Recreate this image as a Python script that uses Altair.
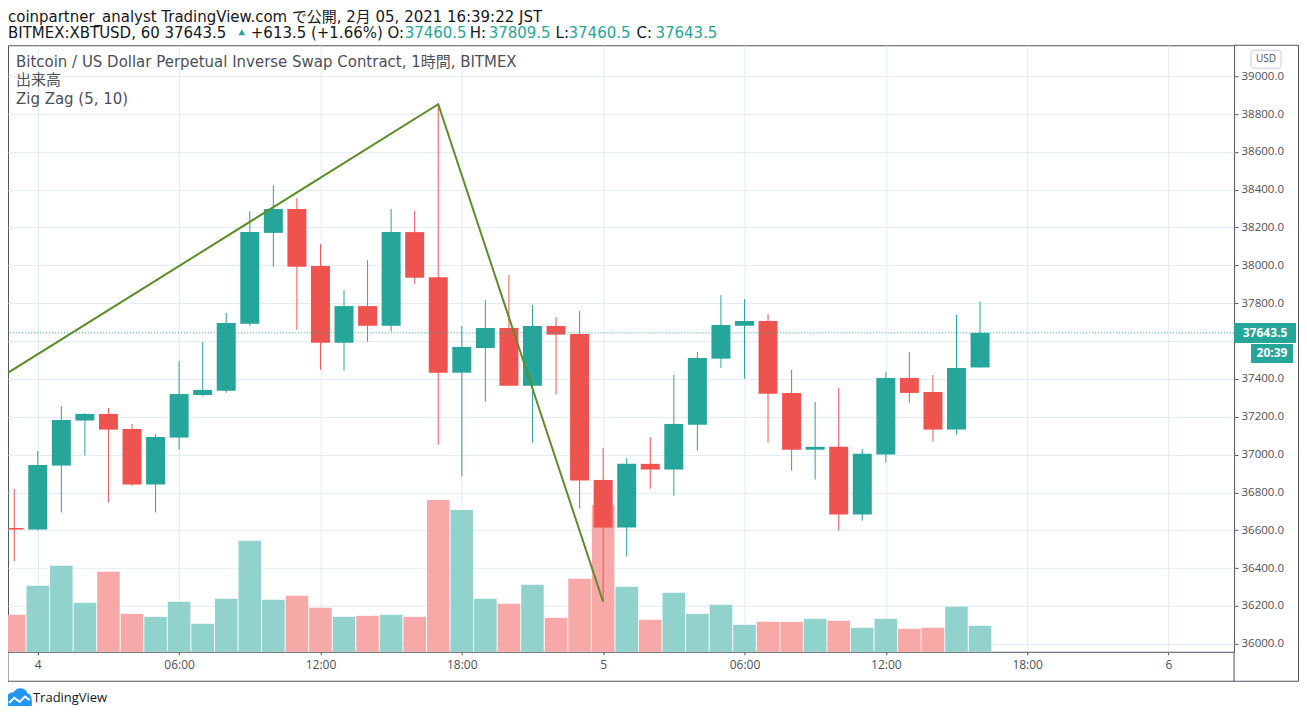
import altair as alt
import pandas as pd

# ---------------- data ----------------
times = pd.date_range("2021-02-03 23:00", periods=42, freq="h")  # hourly candles

opens = [36612, 36604, 36942, 37180, 37215, 37135, 36842, 37090, 37315, 37338,
         37692, 38172, 38298, 37997, 37591, 37785, 37681, 38176, 37938, 37433,
         37563, 37669, 37364, 37680, 37637, 36866, 36614, 36951, 36921, 37158,
         37507, 37681, 37706, 37326, 37026, 37041, 36683, 37000, 37405, 37331,
         37132, 37460.5]
highs = [36819, 37019, 37257, 37218, 37246, 37162, 37109, 37495, 37595, 37748,
         38287, 38424, 38356, 38113, 37870, 38028, 38298, 38287, 38852, 37680,
         37817, 37949, 37791, 37727, 37759, 37035, 36983, 37093, 37421, 37542,
         37843, 37822, 37743, 37447, 37278, 37352, 37030, 37437, 37542, 37421,
         37738, 37809.5]
lows = [36435, 36600, 36694, 36995, 36746, 36835, 36694, 37026, 37310, 37327,
        37681, 37993, 37660, 37449, 37444, 37597, 37650, 37903, 37051, 36884,
        37280, 37362, 37063, 37317, 36715, 36222, 36461, 36820, 36783, 37021,
        37459, 37401, 37063, 36915, 36868, 36598, 36651, 36958, 37275, 37069,
        37105, 37460.5]
closes = [36604, 36945, 37183, 37215, 37132, 36842, 37093, 37320, 37342, 37695,
          38176, 38298, 37993, 37591, 37785, 37681, 38176, 37935, 37433, 37569,
          37669, 37364, 37680, 37634, 36863, 36614, 36951, 36921, 37162, 37511,
          37685, 37706, 37322, 37026, 37041, 36683, 37004, 37405, 37326, 37132,
          37458, 37643.5]
volumes = [37, 66, 86, 49, 80, 38, 35, 50, 28, 53, 111, 52, 56, 44, 35, 36, 37, 35,
           152, 142, 53, 48, 67, 34, 73, 147, 65, 32, 59, 38, 47, 27, 30, 30, 33,
           31, 24, 33, 23, 24, 45, 26]

# zig zag pivots (the first one lies just left of the visible range)
zz_times = ["2021-02-03 22:30", "2021-02-04 17:00", "2021-02-05 00:00"]
zz_prices = [37414, 38852, 36222]

tick_hours = [0, 6, 12, 18, 24, 30, 36, 42, 48]
price_ticks = [36000 + 200 * k for k in range(16)]
last_price = 37643.5

# ---------------- styles ----------------
TEAL = "#26a69a"
RED = "#ef5350"
VTEAL = "#92d2cc"
VRED = "#f7a9a7"
GRID = "#e1ecf2"
BORDER = "#50535e"
TXT = "#131722"
GREY = "#4c4f5a"
ZZ = "#5d8c2a"
FONT = "Open Sans, Noto Sans CJK JP, sans-serif"
HFONT = "DejaVu Sans, Noto Sans CJK JP, sans-serif"

W, H = 1227, 607
origin = pd.Timestamp("2021-02-04 00:00")

hours = [(t - origin) / pd.Timedelta(hours=1) for t in times]
up = [c >= o for o, c in zip(opens, closes)]
df = pd.DataFrame({
    "h": hours, "open": opens, "high": highs, "low": lows, "close": closes,
    "vol": volumes,
    "ccol": [TEAL if u else RED for u in up],
    "vcol": [VTEAL if u else VRED for u in up],
})
zz = pd.DataFrame({
    "h": [(pd.Timestamp(t) - origin) / pd.Timedelta(hours=1) for t in zz_times],
    "p": zz_prices,
})

xscale = alt.Scale(domain=[-1.052, 50.57], nice=False, zero=False)
yscale = alt.Scale(domain=[35957.7, 39163.8], nice=False, zero=False)

xaxis = alt.Axis(
    values=tick_hours, title=None, grid=True, gridColor=GRID, domain=False,
    tickSize=3, tickColor=BORDER, labelPadding=5, labelFontSize=12,
    labelColor=GREY, labelFont=FONT, labelFlush=False, labelOverlap=False,
    labelExpr="datum.value % 24 == 0 ? '' + (4 + datum.value / 24) : "
              "((datum.value % 24) < 10 ? '0' : '') + (datum.value % 24) + ':00'",
)
yaxis = alt.Axis(
    orient="right", values=price_ticks, title=None, grid=True,
    gridColor=GRID, domain=False, tickSize=4, tickColor=BORDER, labelPadding=3,
    labelFontSize=11.5, labelColor=GREY, labelFont=FONT, labelFlush=False,
    labelOverlap=False,
    # the 37600 label sits under the last-price badge
    labelExpr="datum.value == 37600 ? '' : format(datum.value, '.1f')",
)

X = alt.X("h:Q", scale=xscale, axis=xaxis)

vol = alt.Chart(df).mark_bar(size=22.6).encode(
    x=X,
    y=alt.Y("vol:Q", scale=alt.Scale(domain=[0, H]), axis=None),
    color=alt.Color("vcol:N", scale=None),
)

wicks = alt.Chart(df).mark_rule(strokeWidth=1).encode(
    x=X,
    y=alt.Y("low:Q", scale=yscale, axis=yaxis),
    y2="high:Q",
    color=alt.Color("ccol:N", scale=None),
)
bodies = alt.Chart(df).mark_bar(size=19).encode(
    x=X,
    y=alt.Y("open:Q", scale=yscale, axis=yaxis),
    y2="close:Q",
    color=alt.Color("ccol:N", scale=None),
)
zzline = alt.Chart(zz).mark_line(color=ZZ, strokeWidth=2, clip=True).encode(
    x=X, y=alt.Y("p:Q", scale=yscale, axis=yaxis),
)
lastrule = alt.Chart(pd.DataFrame({"p": [last_price]})).mark_rule(
    color=TEAL, strokeDash=[1, 2], strokeWidth=1
).encode(y=alt.Y("p:Q", scale=yscale, axis=yaxis))

price = alt.layer(wicks, bodies, zzline, lastrule)

one = pd.DataFrame({"k": [0]})


def txt(s, x, y, size=15, color=TXT, weight="normal", align="left", font=HFONT):
    return alt.Chart(one).mark_text(
        text=s, align=align, baseline="middle", fontSize=size, color=color,
        font=font, fontWeight=weight,
    ).encode(x=alt.value(x), y=alt.value(y))


def box(x1, y1, x2, y2, fill, stroke=None, radius=0):
    kw = dict(fill=fill, cornerRadius=radius)
    if stroke:
        kw.update(stroke=stroke, strokeWidth=1)
    return alt.Chart(one).mark_rect(**kw).encode(
        x=alt.value(x1), x2=alt.value(x2), y=alt.value(y1), y2=alt.value(y2))


def line(x1, y1, x2, y2, color=BORDER):
    return alt.Chart(one).mark_rule(color=color, strokeWidth=1).encode(
        x=alt.value(x1), x2=alt.value(x2), y=alt.value(y1), y2=alt.value(y2))


decor = [
    # header
    txt("coinpartner_analyst TradingView.com で公開, 2月 05, 2021 16:39:22 JST", 0, -28),
    txt("BITMEX:XBTUSD, 60 37643.5", 0, -12),
    alt.Chart(one).mark_point(shape="triangle-up", filled=True, color=TEAL,
                              size=45, opacity=1).encode(
        x=alt.value(234), y=alt.value(-13)),
    txt("+613.5 (+1.66%) O:", 243, -12),
    txt("37460.5", 397, -12, color=TEAL),
    txt("H:", 462, -12),
    txt("37809.5", 481, -12, color=TEAL),
    txt("L:", 548, -12),
    txt("37460.5", 561, -12, color=TEAL),
    txt("C:", 629, -12),
    txt("37643.5", 648, -12, color=TEAL),
    # legend
    txt("Bitcoin / US Dollar Perpetual Inverse Swap Contract, 1時間, BITMEX", 8, 17, color=GREY),
    txt("出来高", 8, 35, color=GREY),
    txt("Zig Zag (5, 10)", 8, 54, color=GREY),
    # frame outside plot
    line(1227, 0, 1291.5, 0),
    line(1291.5, 0, 1291.5, 636.5),
    line(0, 636.5, 1291.5, 636.5),
    line(0, 607, 0, 636.5),
    line(1227, 607, 1227, 636.5),
    # price scale badges
    box(1244, 5, 1274, 23, "white", stroke="#c9ccd4", radius=3),
    txt("USD", 1259, 14, size=10, color=GREY, align="center", font=FONT),
    box(1227, 278, 1289, 298, TEAL),
    txt("37643.5", 1258, 288, size=12, color="white", weight="bold", align="center", font=FONT),
    box(1244, 299, 1286, 318, TEAL),
    txt("20:39", 1265, 308.5, size=12, color="white", weight="bold", align="center", font=FONT),
    # logo
    alt.Chart(one).mark_point(
        shape="M -1 0.7 L -1 0.2 C -1 -0.2 -0.7 -0.45 -0.4 -0.35 C -0.2 -0.85 0.5 -0.85 0.65 -0.3 "
              "C 0.9 -0.3 1 -0.05 1 0.25 L 1 0.7 Z",
        filled=True, fill="#2196f3", stroke="#2196f3", size=560, opacity=1,
    ).encode(x=alt.value(11), y=alt.value(653)),
    alt.Chart(one).mark_point(
        shape="M -0.85 0.45 L -0.4 0.0 L 0.05 0.35 L 0.5 -0.1 L 0.9 0.2",
        filled=False, stroke="white", strokeWidth=2, size=560, opacity=1,
    ).encode(x=alt.value(11), y=alt.value(653)),
    txt("TradingView", 25, 653, size=13, font=FONT),
]

chart = alt.layer(vol, price, *decor).resolve_scale(y="independent").properties(
    width=W, height=H,
    padding={"left": 0, "top": 37, "right": 65, "bottom": 54},
    autosize=alt.AutoSizeParams(type="none"),
    background="white",
).configure_view(stroke=BORDER, strokeWidth=1)

chart.save("out.html", embed_options={"renderer": "svg", "actions": False})
